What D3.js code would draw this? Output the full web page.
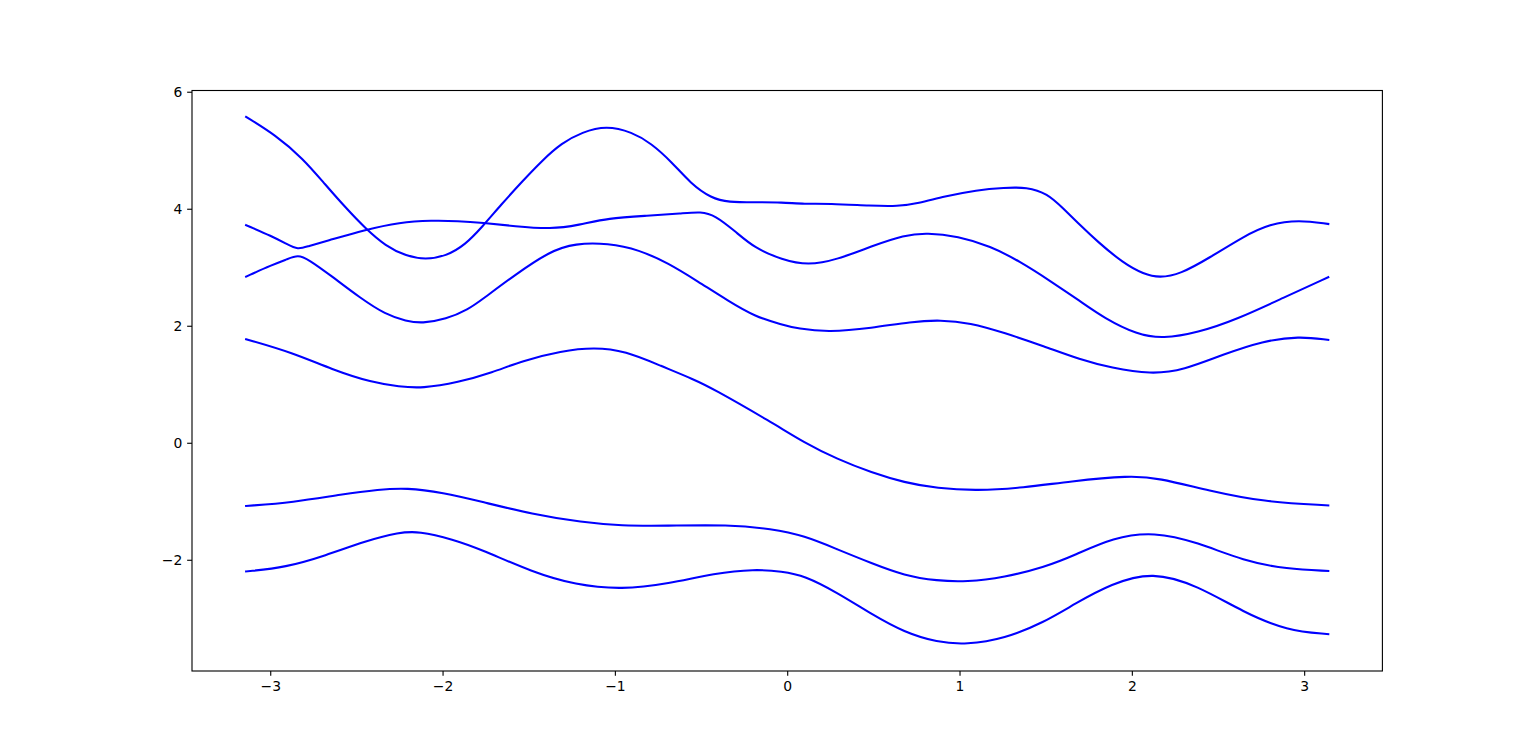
<!DOCTYPE html>
<html>
<head>
<meta charset="utf-8">
<script src="https://cdn.jsdelivr.net/npm/d3@7"></script>
<style>
  body { margin: 0; background: #fff; }
  svg { display: block; }
  .tick text { font-family: "DejaVu Sans", sans-serif; font-size: 13.9px; fill: #000; }
</style>
</head>
<body>
<svg width="1536" height="754"></svg>
<script>
// curve samples, [x, y]
var curveA = [
  [-3.14, 5.57], [-2.97, 5.26], [-2.81, 4.86], [-2.68, 4.41], [-2.56, 4.01],
  [-2.45, 3.67], [-2.33, 3.36], [-2.21, 3.19], [-2.10, 3.13], [-1.98, 3.19],
  [-1.87, 3.38], [-1.77, 3.69], [-1.66, 4.07], [-1.54, 4.46], [-1.42, 4.83],
  [-1.31, 5.12], [-1.19, 5.31], [-1.05, 5.42], [-0.90, 5.31], [-0.79, 5.12],
  [-0.67, 4.80], [-0.56, 4.43], [-0.44, 4.18], [-0.34, 4.11], [-0.19, 4.11],
  [-0.03, 4.11], [0.10, 4.08], [0.24, 4.09], [0.49, 4.05], [0.64, 4.04],
  [0.76, 4.09], [0.91, 4.21], [1.10, 4.32], [1.26, 4.36], [1.39, 4.37],
  [1.51, 4.26], [1.60, 4.01], [1.70, 3.72], [1.80, 3.44], [1.95, 3.07],
  [2.07, 2.88], [2.16, 2.82], [2.28, 2.88], [2.45, 3.16], [2.65, 3.53],
  [2.80, 3.74], [2.97, 3.81], [3.14, 3.74]
];

var curveB = [
  [-3.14, 3.72], [-2.99, 3.53], [-2.90, 3.39], [-2.84, 3.30], [-2.78, 3.36],
  [-2.68, 3.44], [-2.45, 3.64], [-2.25, 3.77], [-2.06, 3.80], [-1.91, 3.79],
  [-1.77, 3.76], [-1.58, 3.70], [-1.37, 3.65], [-1.21, 3.72], [-1.04, 3.84],
  [-0.81, 3.88], [-0.61, 3.92], [-0.50, 3.95], [-0.42, 3.89], [-0.30, 3.61],
  [-0.19, 3.33], [-0.03, 3.13], [0.12, 3.03], [0.29, 3.13], [0.49, 3.36],
  [0.68, 3.55], [0.81, 3.59], [0.99, 3.53], [1.18, 3.36], [1.35, 3.10],
  [1.53, 2.76], [1.70, 2.42], [1.84, 2.13], [2.03, 1.85], [2.18, 1.78],
  [2.38, 1.88], [2.61, 2.11], [2.88, 2.48], [3.14, 2.83]
];

var curveC = [
  [-3.14, 2.84], [-2.99, 3.04], [-2.90, 3.14], [-2.84, 3.21], [-2.78, 3.14],
  [-2.64, 2.84], [-2.48, 2.48], [-2.33, 2.19], [-2.21, 2.08], [-2.12, 2.04],
  [-1.98, 2.11], [-1.85, 2.28], [-1.77, 2.45], [-1.58, 2.87], [-1.38, 3.27],
  [-1.23, 3.41], [-1.04, 3.41], [-0.86, 3.30], [-0.69, 3.07], [-0.52, 2.76],
  [-0.34, 2.42], [-0.19, 2.16], [-0.03, 2.02], [0.06, 1.95], [0.24, 1.89],
  [0.49, 1.96], [0.72, 2.07], [0.89, 2.10], [1.06, 2.05], [1.26, 1.88],
  [1.49, 1.65], [1.70, 1.42], [1.88, 1.28], [2.11, 1.17], [2.30, 1.24],
  [2.53, 1.51], [2.76, 1.74], [2.97, 1.82], [3.14, 1.76]
];

var curveD = [
  [-3.14, 1.77], [-2.87, 1.54], [-2.64, 1.25], [-2.41, 1.03], [-2.25, 0.96],
  [-2.12, 0.93], [-1.91, 1.03], [-1.71, 1.20], [-1.54, 1.40], [-1.31, 1.57],
  [-1.12, 1.63], [-0.94, 1.57], [-0.73, 1.31], [-0.54, 1.08], [-0.44, 0.94],
  [-0.09, 0.35], [0.10, 0.00], [0.29, -0.28], [0.49, -0.51], [0.68, -0.68],
  [0.87, -0.78], [1.10, -0.82], [1.37, -0.77], [1.64, -0.66], [1.99, -0.56],
  [2.15, -0.60], [2.45, -0.82], [2.76, -1.01], [3.14, -1.07]
];

var curveE = [
  [-3.14, -1.08], [-2.87, -1.02], [-2.58, -0.88], [-2.37, -0.80], [-2.21, -0.77],
  [-2.00, -0.85], [-1.77, -1.01], [-1.48, -1.22], [-1.19, -1.36], [-0.96, -1.42],
  [-0.71, -1.42], [-0.34, -1.40], [-0.09, -1.47], [0.10, -1.59], [0.29, -1.82],
  [0.49, -2.06], [0.68, -2.27], [0.87, -2.36], [1.04, -2.38], [1.26, -2.30],
  [1.49, -2.13], [1.67, -1.92], [1.89, -1.62], [2.13, -1.52], [2.38, -1.70],
  [2.65, -2.02], [2.90, -2.16], [3.14, -2.19]
];

var curveF = [
  [-3.14, -2.20], [-2.91, -2.13], [-2.68, -1.93], [-2.45, -1.68], [-2.25, -1.53],
  [-2.14, -1.51], [-1.94, -1.65], [-1.77, -1.83], [-1.48, -2.21], [-1.23, -2.43],
  [-0.96, -2.51], [-0.69, -2.41], [-0.42, -2.23], [-0.19, -2.16], [-0.03, -2.20],
  [0.10, -2.27], [0.29, -2.56], [0.49, -2.93], [0.68, -3.24], [0.87, -3.41],
  [1.04, -3.45], [1.26, -3.35], [1.49, -3.07], [1.67, -2.75], [1.88, -2.41],
  [2.12, -2.20], [2.38, -2.44], [2.65, -2.90], [2.90, -3.21], [3.14, -3.27]
];

var xTicks = [-3, -2, -1, 0, 1, 2, 3];
var yTicks = [-2, 0, 2, 4, 6];

var svg = d3.select("svg"),
    width = +svg.attr("width"),
    height = +svg.attr("height");

// matplotlib default subplot box
var margin = {left: 192, right: 153.6, top: 90.5, bottom: 83};
var plotW = width - margin.left - margin.right,
    plotH = height - margin.top - margin.bottom;

var curves = [curveA, curveB, curveC, curveD, curveE, curveF];
var allPts = d3.merge(curves);

// 5% padding on both axes, like autoscale
function padded(ext) {
  var p = (ext[1] - ext[0]) * 0.05;
  return [ext[0] - p, ext[1] + p];
}

var x = d3.scaleLinear()
  .domain(padded(d3.extent(allPts, d => d[0])))
  .range([0, plotW]);

var y = d3.scaleLinear()
  .domain(padded(d3.extent(allPts, d => d[1])))
  .range([plotH, 0]);

var g = svg.append("g")
  .attr("transform", "translate(" + margin.left + "," + margin.top + ")");

// basis spline smooths out the small reading noise
var line = d3.line()
  .x(d => x(d[0]))
  .y(d => y(d[1]))
  .curve(d3.curveBasis);

g.selectAll(".curve")
  .data(curves)
  .enter().append("path")
  .attr("class", "curve")
  .attr("d", line)
  .attr("fill", "none")
  .attr("stroke", "#0000ff")
  .attr("stroke-width", 2.08)
  .attr("stroke-linejoin", "round")
  .attr("stroke-linecap", "square");

// axes
var fmt = d3.format("d");

var xAxis = g.append("g")
  .attr("transform", "translate(0," + plotH + ")")
  .call(d3.axisBottom(x).tickValues(xTicks).tickFormat(fmt).tickSize(4.86).tickPadding(4.86));

var yAxis = g.append("g")
  .call(d3.axisLeft(y).tickValues(yTicks).tickFormat(fmt).tickSize(4.86).tickPadding(4.86));

xAxis.select(".domain").remove();
yAxis.select(".domain").remove();
g.selectAll(".tick line").attr("stroke", "#000").attr("stroke-width", 1.11);

// frame
g.append("rect")
  .attr("x", 0)
  .attr("y", 0)
  .attr("width", plotW)
  .attr("height", plotH)
  .attr("fill", "none")
  .attr("stroke", "#000")
  .attr("stroke-width", 1.11);
</script>
</body>
</html>
